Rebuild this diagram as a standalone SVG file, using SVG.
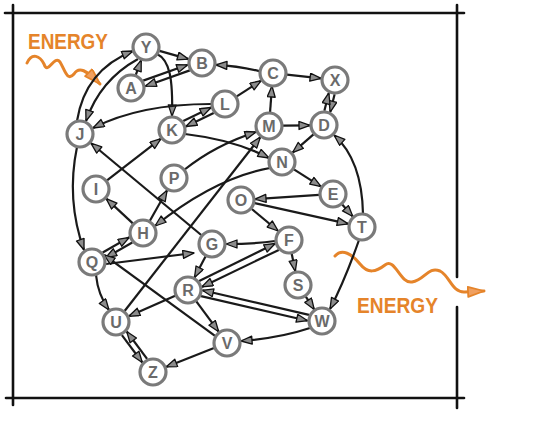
<svg xmlns="http://www.w3.org/2000/svg" width="555" height="448" viewBox="0 0 555 448">
<style>
.frame{stroke:#111;stroke-width:2.6;fill:none;stroke-linecap:round}
.e{stroke:#1a1a1a;stroke-width:2.2;fill:none;marker-end:url(#ah)}
.n circle{fill:#fff;stroke:#7a7a7a;stroke-width:3.2}
.n text{font-family:"Liberation Sans",Arial,sans-serif;font-size:16px;font-weight:bold;fill:#6a6a6a;text-anchor:middle}
.en{font-family:"Liberation Sans",Arial,sans-serif;font-size:22px;font-weight:bold;fill:#E5842A}
.wave{stroke:#E5842A;stroke-width:3;fill:none;stroke-linecap:round;marker-end:url(#oah)}
</style>
<defs>
<marker id="ah" markerUnits="userSpaceOnUse" markerWidth="14" markerHeight="11" refX="12" refY="4.5" orient="auto">
<path d="M1,0.5 L12,4.5 L1,8.5 z" fill="#8c8c8c" stroke="#111" stroke-width="1.3" stroke-linejoin="round"/>
</marker>
<marker id="oah" markerUnits="userSpaceOnUse" markerWidth="20" markerHeight="13" refX="17" refY="5.5" orient="auto">
<path d="M1,0.5 L17,5.5 L1,10.5 z" fill="#F0A060" stroke="#E5842A" stroke-width="1.8" stroke-linejoin="round"/>
</marker>
</defs>
<rect width="555" height="448" fill="#fff"/>
<g id="frame">
<path class="frame" d="M5,13 L464,13"/>
<path class="frame" d="M13,5 L13,405"/>
<path class="frame" d="M6,398 L464,398"/>
<path class="frame" d="M457,5 L457,277"/>
<path class="frame" d="M457,307 L457,408"/>
</g>
<g id="energy-in">
<text class="en" x="28" y="49" textLength="80" lengthAdjust="spacingAndGlyphs">ENERGY</text>
<path class="wave" d="M27,63 C32,52 40,56 44,64 C48,76 54,54 60,62 C65,70 67,82 74,74 C79,66 86,70 100,84"/>
</g>
<g id="energy-out">
<text class="en" x="357" y="313" textLength="81" lengthAdjust="spacingAndGlyphs">ENERGY</text>
<path class="wave" d="M335,256 C342,248 352,254 360,264 C368,274 376,272 385,265 C395,257 400,284 412,282 C425,280 428,266 440,271 C450,276 452,293 465,292 L484,291"/>
</g>
<g id="connectors">
<path class="e" d="M159.5,50.9 L188.5,59.1"/>
<path class="e" d="M135.8,74.9 L141.2,60.1"/>
<path class="e" d="M143.2,80.6 L187.8,64.8"/>
<path class="e" d="M189.8,70.4 L145.2,86.2"/>
<path class="e" d="M157,54 C170,60 173,80 172,116"/>
<path class="e" d="M259.1,71.1 Q238,66 215.9,64.9"/>
<path class="e" d="M236.8,96.4 L261.2,80.6"/>
<path class="e" d="M211,104 Q140,104 93,128"/>
<path class="e" d="M183.3,121.1 L211.1,107.5"/>
<path class="e" d="M213.7,112.9 L185.9,126.5"/>
<path class="e" d="M270,113 L272,86"/>
<path class="e" d="M286.9,74.6 L321.1,78.4"/>
<path class="e" d="M283,125.7 L310,125.3"/>
<path class="e" d="M334.6,94.3 L330.2,112.1"/>
<path class="e" d="M324.4,110.7 L328.8,92.9"/>
<path class="e" d="M313.5,134.3 L292.5,152.7"/>
<path class="e" d="M363,214 Q362,160 334,135"/>
<path class="e" d="M77,121 Q85,70 133,51"/>
<path class="e" d="M138,59 Q100,80 86,121"/>
<path class="e" d="M77,147 Q66,200 84,250"/>
<path class="e" d="M107,180.4 L161,138.6"/>
<path class="e" d="M185,134 Q235,140 269,158"/>
<path class="e" d="M201.2,235 L90.8,143"/>
<path class="e" d="M184,170 Q215,145 256,132"/>
<path class="e" d="M124.6,311 L260.4,137"/>
<path class="e" d="M270,168 Q215,178 155,226"/>
<path class="e" d="M149.9,220.8 L167.1,190.2"/>
<path class="e" d="M132.8,223.4 L106.2,198.6"/>
<path class="e" d="M102.7,252.5 L129.3,237.3"/>
<path class="e" d="M132.3,242.5 L105.7,257.7"/>
<path class="e" d="M106,264 L194,253"/>
<path class="e" d="M293.9,169.4 L321.1,186.6"/>
<path class="e" d="M319,194.9 L255,199.1"/>
<path class="e" d="M342.2,204.5 L352.8,216.5"/>
<path class="e" d="M254.7,203.1 L348.3,223.9"/>
<path class="e" d="M251.8,209 L278.2,231"/>
<path class="e" d="M275,241 Q255,244 226,244"/>
<path class="e" d="M291.7,253.7 L295.3,271.3"/>
<path class="e" d="M205.5,256.4 L194.5,277.6"/>
<path class="e" d="M199.2,281.1 L275.2,243.5"/>
<path class="e" d="M278.8,249.9 L201.8,286.9"/>
<path class="e" d="M309,314.9 L202.4,290.3"/>
<path class="e" d="M201,296.1 L307.6,320.7"/>
<path class="e" d="M359,240 Q345,280 330,309"/>
<path class="e" d="M305.8,296.6 L314.2,309.4"/>
<path class="e" d="M310,328 Q280,338 241,341"/>
<path class="e" d="M175.2,295.7 L128.8,316.3"/>
<path class="e" d="M196.3,301.3 L218.7,331.7"/>
<path class="e" d="M215,335.8 L104,254.8"/>
<path class="e" d="M96,275 Q98,295 109,310"/>
<path class="e" d="M214,348.1 L166,366.9"/>
<path class="e" d="M121.9,335.1 L142.3,362.5"/>
<path class="e" d="M147.1,358.9 L126.7,331.5"/>
</g>
<g id="Y" class="n"><circle cx="146" cy="47" r="13"/><text x="146" y="53">Y</text></g>
<g id="B" class="n"><circle cx="202" cy="63" r="13"/><text x="202" y="69">B</text></g>
<g id="A" class="n"><circle cx="131" cy="88" r="13"/><text x="131" y="94">A</text></g>
<g id="C" class="n"><circle cx="273" cy="73" r="13"/><text x="273" y="79">C</text></g>
<g id="X" class="n"><circle cx="335" cy="80" r="13"/><text x="335" y="86">X</text></g>
<g id="L" class="n"><circle cx="225" cy="104" r="13"/><text x="225" y="110">L</text></g>
<g id="J" class="n"><circle cx="80" cy="134" r="13"/><text x="80" y="140">J</text></g>
<g id="K" class="n"><circle cx="172" cy="130" r="13"/><text x="172" y="136">K</text></g>
<g id="M" class="n"><circle cx="269" cy="126" r="13"/><text x="269" y="132">M</text></g>
<g id="D" class="n"><circle cx="324" cy="125" r="13"/><text x="324" y="131">D</text></g>
<g id="N" class="n"><circle cx="282" cy="162" r="13"/><text x="282" y="168">N</text></g>
<g id="P" class="n"><circle cx="174" cy="178" r="13"/><text x="174" y="184">P</text></g>
<g id="I" class="n"><circle cx="96" cy="189" r="13"/><text x="96" y="195">I</text></g>
<g id="O" class="n"><circle cx="241" cy="200" r="13"/><text x="241" y="206">O</text></g>
<g id="E" class="n"><circle cx="333" cy="194" r="13"/><text x="333" y="200">E</text></g>
<g id="T" class="n"><circle cx="362" cy="227" r="13"/><text x="362" y="233">T</text></g>
<g id="H" class="n"><circle cx="143" cy="233" r="13"/><text x="143" y="239">H</text></g>
<g id="G" class="n"><circle cx="212" cy="244" r="13"/><text x="212" y="250">G</text></g>
<g id="F" class="n"><circle cx="289" cy="240" r="13"/><text x="289" y="246">F</text></g>
<g id="Q" class="n"><circle cx="92" cy="262" r="13"/><text x="92" y="268">Q</text></g>
<g id="S" class="n"><circle cx="298" cy="285" r="13"/><text x="298" y="291">S</text></g>
<g id="R" class="n"><circle cx="188" cy="290" r="13"/><text x="188" y="296">R</text></g>
<g id="W" class="n"><circle cx="322" cy="321" r="13"/><text x="322" y="327">W</text></g>
<g id="U" class="n"><circle cx="116" cy="322" r="13"/><text x="116" y="328">U</text></g>
<g id="V" class="n"><circle cx="227" cy="343" r="13"/><text x="227" y="349">V</text></g>
<g id="Z" class="n"><circle cx="153" cy="372" r="13"/><text x="153" y="378">Z</text></g>
</svg>
